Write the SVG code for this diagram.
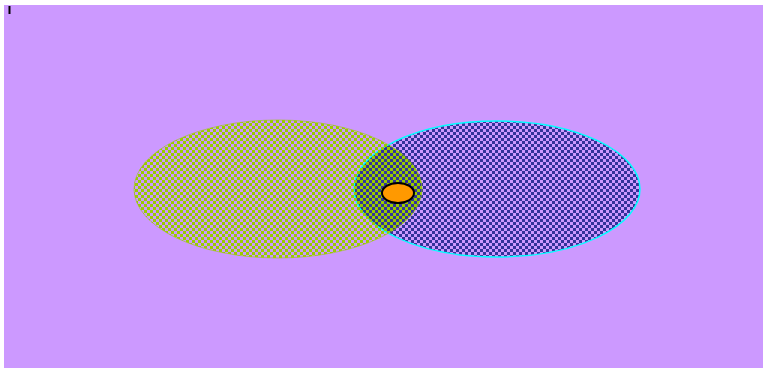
<svg xmlns="http://www.w3.org/2000/svg" width="763" height="368" viewBox="0 0 763 368">
<defs>
<pattern id="pg" patternUnits="userSpaceOnUse" width="6" height="6">
<rect x="0" y="0" width="3" height="3" fill="#99cc00"/>
<rect x="3" y="3" width="3" height="3" fill="#99cc00"/>
</pattern>
<pattern id="pb" patternUnits="userSpaceOnUse" width="6" height="6">
<rect x="3" y="0" width="3" height="3" fill="#333399"/>
<rect x="0" y="3" width="3" height="3" fill="#333399"/>
</pattern>
</defs>
<style>
.bg{fill:#cc99ff}
</style>
<rect x="0" y="0" width="763" height="368" fill="#ffffff"/>
<rect class="bg" x="4" y="5" width="759" height="363"/>
<line x1="9.5" y1="6" x2="9.5" y2="14" stroke="#000" stroke-width="2"/>
<g id="right-set">
<ellipse cx="497" cy="189" rx="143" ry="68" fill="url(#pb)" stroke="#00ffff" stroke-width="1.5"/>
</g>
<g id="left-set">
<ellipse cx="278" cy="189" rx="144" ry="69" fill="url(#pg)" stroke="#99cc00" stroke-width="1" stroke-opacity="0.6"/>
</g>
<g id="connectors"></g>
<g id="dot">
<ellipse cx="398" cy="193" rx="16" ry="10" fill="#ff9900" stroke="#000" stroke-width="2"/>
</g>
</svg>
